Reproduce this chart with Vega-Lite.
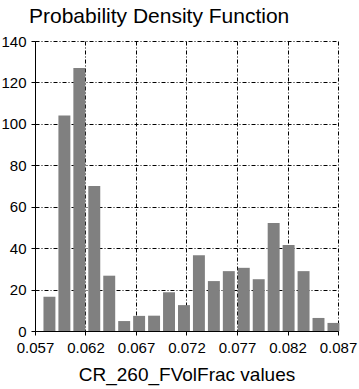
{
  "$schema": "https://vega.github.io/schema/vega-lite/v6.json",
  "autosize": {"type": "none"},
  "width": 303,
  "height": 290,
  "padding": {"left": 35, "top": 41, "right": 21, "bottom": 58},
  "background": "white",
  "title": {
    "text": "Probability Density Function",
    "font": "Liberation Sans",
    "fontSize": 21,
    "fontWeight": "normal",
    "color": "black",
    "anchor": "start",
    "frame": "group",
    "dx": -6,
    "offset": 7
  },
  "config": {
    "view": {"stroke": null},
    "axis": {
      "labelFont": "Liberation Sans",
      "labelFontSize": 15,
      "labelColor": "black",
      "titleFont": "Liberation Sans",
      "titleFontSize": 19,
      "titleFontWeight": "normal",
      "titleColor": "black",
      "domainColor": "black",
      "tickColor": "black",
      "tickSize": 4,
      "labelPadding": 5,
      "grid": true,
      "gridColor": "black",
      "gridOpacity": 1,
      "gridDash": [4, 2, 1, 2],
      "gridWidth": 1
    }
  },
  "data": {
    "values": [
      {"bin_start": 0.05764, "bin_end": 0.05912, "density": 16.5},
      {"bin_start": 0.05912, "bin_end": 0.06060, "density": 104},
      {"bin_start": 0.06060, "bin_end": 0.06208, "density": 127},
      {"bin_start": 0.06208, "bin_end": 0.06356, "density": 70},
      {"bin_start": 0.06356, "bin_end": 0.06504, "density": 26.7},
      {"bin_start": 0.06504, "bin_end": 0.06652, "density": 4.8},
      {"bin_start": 0.06652, "bin_end": 0.06800, "density": 7.3},
      {"bin_start": 0.06800, "bin_end": 0.06948, "density": 7.4},
      {"bin_start": 0.06948, "bin_end": 0.07096, "density": 18.7},
      {"bin_start": 0.07096, "bin_end": 0.07244, "density": 12.5},
      {"bin_start": 0.07244, "bin_end": 0.07392, "density": 36.6},
      {"bin_start": 0.07392, "bin_end": 0.07540, "density": 24.1},
      {"bin_start": 0.07540, "bin_end": 0.07688, "density": 28.9},
      {"bin_start": 0.07688, "bin_end": 0.07836, "density": 30.5},
      {"bin_start": 0.07836, "bin_end": 0.07984, "density": 25},
      {"bin_start": 0.07984, "bin_end": 0.08132, "density": 52.1},
      {"bin_start": 0.08132, "bin_end": 0.08280, "density": 41.5},
      {"bin_start": 0.08280, "bin_end": 0.08428, "density": 28.9},
      {"bin_start": 0.08428, "bin_end": 0.08576, "density": 6.3},
      {"bin_start": 0.08576, "bin_end": 0.08724, "density": 3.9}
    ]
  },
  "mark": {"type": "bar", "color": "#808080", "binSpacing": 3},
  "encoding": {
    "x": {
      "field": "bin_start",
      "bin": "binned",
      "type": "quantitative",
      "title": "CR_260_FVolFrac values",
      "scale": {"domain": [0.057, 0.087], "nice": false, "zero": false},
      "axis": {
        "values": [0.057, 0.062, 0.067, 0.072, 0.077, 0.082, 0.087],
        "format": ".3f",
        "grid": true,
        "titlePadding": 10,
        "labelFlush": false
      }
    },
    "x2": {"field": "bin_end"},
    "y": {
      "field": "density",
      "type": "quantitative",
      "title": null,
      "scale": {"domain": [0, 140], "nice": false},
      "axis": {
        "values": [0, 20, 40, 60, 80, 100, 120, 140],
        "grid": true,
        "labelFlush": false
      }
    }
  }
}
